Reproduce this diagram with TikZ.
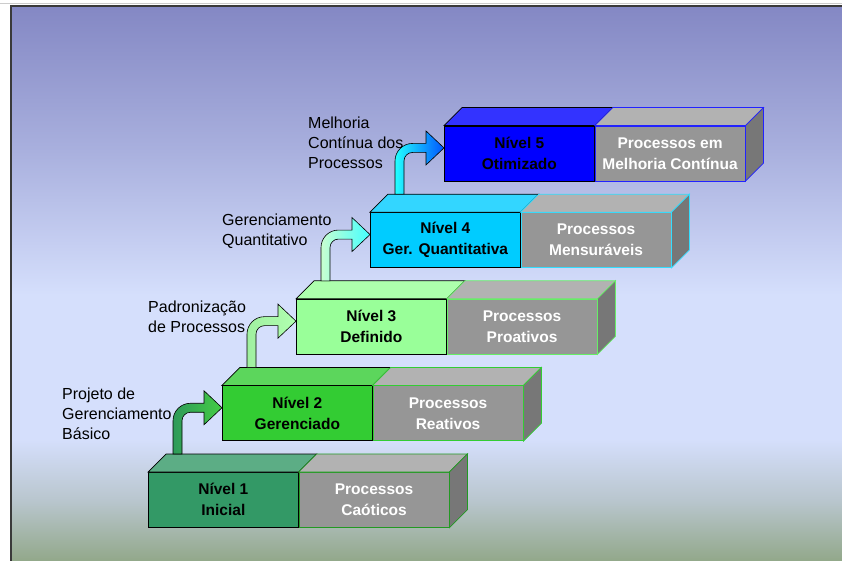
\documentclass[tikz,border=0pt]{standalone}
\usepackage{fontspec}
\setmainfont{Liberation Sans}
\usetikzlibrary{positioning,calc}

\definecolor{bgtop}{HTML}{8488C4}
\definecolor{bgupper}{HTML}{A9B0DE}
\definecolor{bglight}{HTML}{D5DFFC}
\definecolor{bgmidlow}{HTML}{B9C6CE}
\definecolor{bgbot}{HTML}{92A88A}
\definecolor{framegray}{HTML}{3A3A3A}

\definecolor{lvA}{HTML}{339966}
\definecolor{lvB}{HTML}{33CC33}
\definecolor{lvC}{HTML}{99FF99}
\definecolor{lvD}{HTML}{00CCFF}
\definecolor{lvE}{HTML}{0000FF}
\definecolor{edA}{HTML}{229922}
\definecolor{edB}{HTML}{33CC33}
\definecolor{edC}{HTML}{66EE66}
\definecolor{edD}{HTML}{33DDFF}
\definecolor{edE}{HTML}{2222FF}
\definecolor{procfront}{HTML}{969696}
\definecolor{proctop}{HTML}{B2B2B2}
\definecolor{procside}{HTML}{777777}

\definecolor{arA}{HTML}{2E9A5A}
\definecolor{arB}{HTML}{44CC44}
\definecolor{arC}{HTML}{A0F0A0}
\definecolor{arD}{HTML}{B0FFB0}
\definecolor{arE}{HTML}{C8FFD0}
\definecolor{arF}{HTML}{44FFFF}
\definecolor{arG}{HTML}{22FFFF}
\definecolor{arH}{HTML}{0055FF}

\pgfdeclareverticalshading{stairbg}{100bp}{color(0bp)=(bgbot); color(25bp)=(bgbot);
  color(30.5bp)=(bgmidlow); color(36bp)=(bglight); color(49bp)=(bglight);
  color(62bp)=(bgupper); color(75bp)=(bgtop); color(100bp)=(bgtop)}

\begin{document}
\begin{tikzpicture}[x=1pt, y=-1pt,
    lvbox/.style={rectangle, draw=black, line width=.7pt, minimum width=150pt,
      minimum height=55pt, inner sep=0pt, align=center,
      font=\bfseries\fontsize{15.5}{21}\selectfont},
    prbox/.style={lvbox, fill=procfront, text=white},
    stepnote/.style={inner sep=0pt, align=left, anchor=north west,
      font=\fontsize{16}{20}\selectfont}]

    \useasboundingbox (0,0) rectangle (842,561);
    \fill[white] (0,0) rectangle (842,561);
    \shade[shading=stairbg] (11,7) rectangle (842,561);
    \draw[gray!40, line width=1pt] (0,4) -- (842,4);
    \draw[framegray, line width=2pt] (10.5,561) -- (10.5,6.5) -- (842,6.5);

    \foreach \k/\fc/\ec/\ltxt/\ptxt in {1/lvA/edA/{Nível 1\\Inicial}/{Processos\\Caóticos},
        2/lvB/edB/{Nível 2\\Gerenciado}/{Processos\\Reativos},
        3/lvC/edC/{Nível 3\\Definido}/{Processos\\Proativos},
        4/lvD/edD/{Nível 4\\Ger. Quantitativa}/{Processos\\Mensuráveis},
        5/lvE/edE/{Nível 5\\Otimizado}/{Processos em\\Melhoria Contínua}} {
        \node[lvbox, fill=\fc, anchor=north west] (lv\k) at ({148+74*(\k-1)}, {472-86.6*(\k-1)}) {\ltxt};
        \node[prbox, draw=\ec, right=0pt of lv\k] (pr\k) {\ptxt};
        \filldraw[fill=\fc!80!white, draw=black, line width=.7pt] (lv\k.north west) -- ++(18,-18)
            -- ([shift={(18,-18)}]lv\k.north east) -- (lv\k.north east) -- cycle;
        \filldraw[fill=proctop, draw=\ec, line width=.7pt] (pr\k.north west) -- ++(18,-18)
            -- ([shift={(18,-18)}]pr\k.north east) -- (pr\k.north east) -- cycle;
        \filldraw[fill=procside, draw=\ec, line width=.7pt] (pr\k.north east) -- ++(18,-18)
            -- ([shift={(18,-18)}]pr\k.south east) -- (pr\k.south east) -- cycle;
    }

    \node[stepnote] (nt1) at (62,388) {Projeto de\\Gerenciamento\\Básico};
    \node[stepnote] (nt2) at (148,301) {Padronização\\de Processos};
    \node[stepnote] (nt3) at (222,214) {Gerenciamento\\Quantitativo};
    \node[stepnote] (nt4) at (308,117) {Melhoria\\Contínua dos\\Processos};

    \foreach \a/\b/\ca/\cb in {1/2/arA/arB, 2/3/arC/arD, 3/4/arE/arF, 4/5/arG/arH}
        \path[draw=black, line width=.6pt, left color=\ca, right color=\cb]
            let \p1 = ([yshift=5.5pt]lv\b.west), \p2 = (lv\a.north) in
            (\x1-49pt, \y2+18pt) -- (\x1-49pt, \y1-13pt)
            .. controls (\x1-49pt, \y1-3.3pt) and (\x1-41.2pt, \y1+4.5pt) .. (\x1-31.5pt, \y1+4.5pt)
            -- (\x1-18pt, \y1+4.5pt) -- (\x1-18pt, \y1+17pt) -- (\x1, \y1)
            -- (\x1-18pt, \y1-17pt) -- (\x1-18pt, \y1-4.5pt) -- (\x1-31.5pt, \y1-4.5pt)
            .. controls (\x1-36.2pt, \y1-4.5pt) and (\x1-40pt, \y1-8.3pt) .. (\x1-40pt, \y1-13pt)
            -- (\x1-40pt, \y2+18pt) -- cycle;
\end{tikzpicture}
\end{document}
